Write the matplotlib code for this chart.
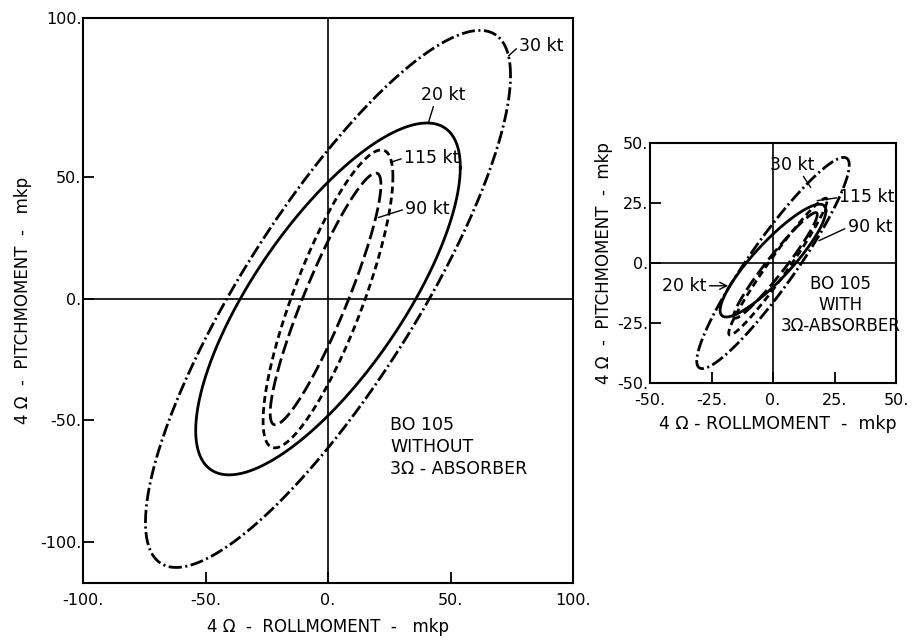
import numpy as np
import matplotlib
matplotlib.use('Agg')
import matplotlib.pyplot as plt

plt.rcParams['font.family'] = ['DejaVu Sans']
plt.rcParams['lines.scale_dashes'] = False

# 4 Omega moment orbits: roll amplitude, pitch amplitude, phase lag (deg), centre
speeds = ['30 kt', '20 kt', '115 kt', '90 kt']

# BO 105 without 3 Omega absorber
roll_amp_wo = [74.5, 54.0, 26.5, 22.6]
pitch_amp_wo = [110.5, 72.4, 61.3, 51.8]
phase_wo = [33.7, 41.6, 35.0, 24.8]
cx_wo = [0.0, 0.0, 0.0, -1.0]
cy_wo = [0.0, 0.0, 0.0, 0.0]

# BO 105 with 3 Omega absorber
roll_amp_w = [31.0, 21.5, 20.0, 17.0]
pitch_amp_w = [44.0, 23.5, 28.5, 22.0]
phase_w = [22.0, 28.0, 14.0, 16.0]
cx_w = [0.0, 0.0, 2.0, 1.0]
cy_w = [0.0, 1.0, -1.5, -1.0]

styles = {
    '30 kt': (0, (9.5, 2.5, 1.5, 2.5)),
    '20 kt': '-',
    '115 kt': (0, (5, 3)),
    '90 kt': (0, (10, 3.5)),
}

t = np.linspace(0, 2 * np.pi, 500)


def draw_orbits(ax, roll, pitch, phase, cx, cy):
    for s, a, b, ph, x0, y0 in zip(speeds, roll, pitch, phase, cx, cy):
        x = x0 + a * np.cos(t)
        y = y0 + b * np.cos(t - np.radians(ph))
        ax.plot(x, y, color='black', lw=2.0, linestyle=styles[s])


def style_axes(ax):
    for sp in ax.spines.values():
        sp.set_linewidth(1.5)
    ax.axhline(0, color='black', lw=1.2)
    ax.axvline(0, color='black', lw=1.2)
    ax.tick_params(direction='in', length=8, width=1.3, labelsize=11.5,
                   top=False, right=False)
    ax.tick_params(axis='x', pad=7)
    ax.tick_params(axis='y', pad=1)


def label(ax, txt, xy, xytext, ha='left', rel=(0, 0.5), style='-'):
    ax.annotate(txt, xy=xy, xytext=xytext, ha=ha, va='center', fontsize=12.5,
                arrowprops=dict(arrowstyle=style, lw=1.0, color='black',
                                relpos=rel, shrinkA=0, shrinkB=0))


fig = plt.figure(figsize=(9.16, 6.41), dpi=100)

# big panel
ax1 = fig.add_axes([83 / 916, 1 - 583 / 641, 490 / 916, 565 / 641])
draw_orbits(ax1, roll_amp_wo, pitch_amp_wo, phase_wo, cx_wo, cy_wo)
ax1.set_xlim(-100, 100)
ax1.set_ylim(-116.9, 115.6)
style_axes(ax1)
ax1.set_xticks([-100, -50, 0, 50, 100])
ax1.set_xticklabels(['-100.', '-50.', '0.', '50.', '100.'])
ax1.set_yticks([-100, -50, 0, 50, 115.6])
ax1.set_yticklabels(['-100.', '-50.', '0.', '50.', '100.'])
ax1.set_xlabel('4 Ω  -  ROLLMOMENT  -   mkp', fontsize=12)
ax1.set_ylabel('4 Ω  -  PITCHMOMENT  -   mkp', fontsize=12)
ax1.xaxis.set_label_coords(0.5, -0.062)
ax1.yaxis.set_label_coords(-0.105, 0.5)

label(ax1, '30 kt', (73.7, 100), (78, 104))
label(ax1, '20 kt', (41, 72.6), (47, 84), ha='center', rel=(0.3, 0))
label(ax1, '115 kt', (25.5, 56.2), (31, 58))
label(ax1, '90 kt', (20.6, 33.5), (31.5, 37))
ax1.text(25.5, -61, 'BO 105\nWITHOUT\n3Ω - ABSORBER', ha='left', va='center',
         fontsize=12.5, linespacing=1.3)

# small panel
ax2 = fig.add_axes([650 / 916, 1 - 383 / 641, 246 / 916, 240 / 641])
draw_orbits(ax2, roll_amp_w, pitch_amp_w, phase_w, cx_w, cy_w)
ax2.set_xlim(-50, 50)
ax2.set_ylim(-50, 50)
style_axes(ax2)
ax2.set_xticks([-50, -25, 0, 25, 50])
ax2.set_xticklabels(['-50.', '-25.', '0.', '25.', '50.'])
ax2.set_yticks([-50, -25, 0, 25, 50])
ax2.set_yticklabels(['-50.', '-25.', '0.', '25.', '50.'])
ax2.set_xlabel('4 Ω - ROLLMOMENT  -  mkp', fontsize=12.5)
ax2.set_ylabel('4 Ω  -  PITCHMOMENT  -  mkp', fontsize=12)
ax2.xaxis.set_label_coords(0.52, -0.135)
ax2.yaxis.set_label_coords(-0.15, 0.5)

label(ax2, '30 kt', (15.3, 31.5), (8, 41), ha='center', rel=(0.7, 0))
label(ax2, '115 kt', (18, 26), (27, 27.3))
label(ax2, '90 kt', (18.7, 9.3), (30.3, 14.8))
label(ax2, '20 kt', (-18.2, -9.5), (-45, -9.5), rel=(1, 0.5), style='->')
ax2.text(27.6, -17.4, 'BO 105\nWITH\n3Ω-ABSORBER', ha='center', va='center',
         fontsize=12, linespacing=1.2)

fig.savefig('out.png', dpi=100)
